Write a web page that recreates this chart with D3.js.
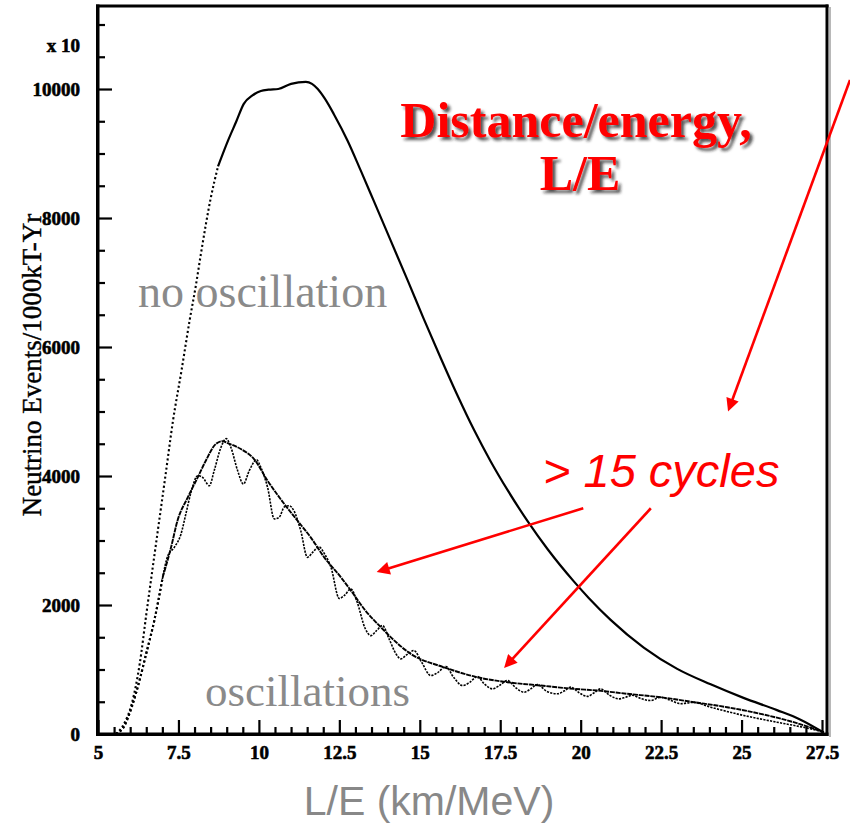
<!DOCTYPE html>
<html>
<head>
<meta charset="utf-8">
<script src="https://cdn.jsdelivr.net/npm/d3@7"></script>
<style>
  html, body { margin: 0; padding: 0; background: #ffffff; }
  svg { display: block; }
</style>
</head>
<body>
<svg id="chart" width="850" height="825"></svg>
<script>
// Expected neutrino event rate vs L/E, no oscillation
const noOscLE = [5.56, 5.8, 6.05, 6.3, 6.5, 6.75, 6.9, 7.1, 7.33, 7.6, 7.85, 8.04, 8.2, 8.5, 8.73,
  9.04, 9.3, 9.53, 9.8, 10.06, 10.3, 10.6, 11.0, 11.46, 11.65, 11.83, 12.05, 12.33, 12.76, 13.17,
  13.57, 14.1, 14.63, 15.12, 15.65, 16.18, 16.68, 17.2, 17.73, 18.35, 18.98, 19.78, 20.25, 20.93,
  21.96, 23.0, 24.04, 25.06, 26.1, 26.8, 27.55];
const noOscEvents = [0, 150, 470, 1100, 1850, 2760, 3300, 4020, 4855, 5650, 6420, 6950, 7450, 8300, 8800,
  9200, 9500, 9770, 9900, 9970, 9990, 10000, 10080, 10110, 10080, 10000, 9850, 9610, 9195, 8730,
  8265, 7645, 7025, 6440, 5830, 5240, 4720, 4230, 3780, 3300, 2860, 2370, 2110, 1770,
  1340, 1010, 770, 560, 370, 230, 23];

// With oscillations: averaged (slow) suppression
const avgLE = [5.56, 5.8, 6.05, 6.3, 6.5, 6.75, 7.01, 7.27, 7.47, 7.79, 8.1, 8.35, 8.66, 8.88, 9.03,
  9.44, 9.85, 10.27, 10.79, 11.2, 11.61, 12.03, 12.55, 12.86, 13.3, 13.79, 14.25, 14.72, 15.75,
  16.79, 17.72, 18.76, 19.79, 20.52, 21.45, 22.48, 23.52, 24.55, 25.59, 26.62, 27.56];
const avgEvents = [0, 110, 420, 850, 1250, 1760, 2430, 2894, 3307, 3669, 3979, 4237, 4496, 4540, 4510,
  4418, 4263, 3927, 3566, 3307, 3049, 2739, 2429, 2223, 1920, 1655, 1430, 1242, 1035,
  880, 803, 751, 700, 674, 623, 570, 493, 415, 313, 183, 28];

// With oscillations: full (fast) oscillation pattern
const oscLE = [5.56, 5.8, 6.05, 6.3, 6.5, 6.75, 7.0, 7.16, 7.37, 7.58, 7.73, 7.89, 8.1, 8.25, 8.46,
  8.61, 8.82, 8.98, 9.13, 9.34, 9.52, 9.7, 9.93, 10.06, 10.27, 10.48, 10.63, 10.79, 10.94, 11.1,
  11.3, 11.51, 11.67, 11.87, 12.03, 12.24, 12.5, 12.66, 12.86, 13.05, 13.3, 13.48, 13.65, 13.84,
  14.05, 14.25, 14.41, 14.6, 14.82, 15.05, 15.34, 15.55, 15.81, 16.05, 16.33, 16.55, 16.79, 17.0,
  17.26, 17.5, 17.72, 18.0, 18.24, 18.45, 18.65, 18.95, 19.28, 19.5, 19.69, 19.95, 20.21, 20.42,
  20.62, 20.9, 21.19, 21.4, 21.6, 21.9, 22.17, 22.48, 22.8, 23.1, 23.5, 24.04, 25.07, 26.1, 27.14, 27.56];
const oscEvents = [0, 110, 420, 850, 1250, 1760, 2400, 2750, 2894, 3101, 3411, 3746, 4005, 3979, 3850,
  4082, 4443, 4580, 4443, 4082, 3876, 4082, 4250, 4133, 3823, 3334, 3359, 3520, 3540, 3450,
  3153, 2739, 2816, 2900, 2800, 2584, 2100, 2150, 2249, 2050, 1640, 1526, 1600, 1681,
  1470, 1250, 1165, 1230, 1294, 1120, 906, 950, 1046, 880, 751, 800, 890, 780,
  700, 760, 829, 710, 648, 700, 767, 660, 623, 670, 726, 640, 583, 640,
  700, 600, 545, 570, 600, 545, 519, 570, 520, 470, 490, 415, 287, 183, 80, 28];

// Axis ticks
const xMajorTicks = [5, 7.5, 10, 12.5, 15, 17.5, 20, 22.5, 25, 27.5];
const xTickLabels = ["5", "7.5", "10", "12.5", "15", "17.5", "20", "22.5", "25", "27.5"];
const yMajorTicks = [0, 2000, 4000, 6000, 8000, 10000];
const yTickLabels = ["0", "2000", "4000", "6000", "8000", "10000"];
const xMinorTicks = d3.range(5, 27.51, 0.5).filter(v => !xMajorTicks.includes(v));
const yMinorTicks = d3.range(0, 11001, 500).filter(v => !yMajorTicks.includes(v));

const svg = d3.select("#chart");
const x = d3.scaleLinear().domain([5, 27.655]).range([98, 827]);
const y = d3.scaleLinear().domain([0, 11287]).range([734, 6]);
const [xLo, xHi] = x.domain();
const [yLo, yHi] = y.domain();

const defs = svg.append("defs");
const shadow = defs.append("filter").attr("id", "shadow")
  .attr("x", "-10%").attr("y", "-20%").attr("width", "130%").attr("height", "150%");
shadow.append("feDropShadow").attr("dx", 3).attr("dy", 3).attr("stdDeviation", 1.4)
  .attr("flood-color", "#1a1a1a").attr("flood-opacity", 0.75);

defs.append("marker").attr("id", "head")
  .attr("viewBox", "0 0 10 10").attr("refX", 10).attr("refY", 5)
  .attr("markerUnits", "userSpaceOnUse").attr("markerWidth", 17).attr("markerHeight", 13)
  .attr("orient", "auto")
  .append("path").attr("d", "M0,0 L10,5 L0,10 Z").attr("fill", "#ff0000");

// Axes with ticks pointing into the frame
const tickFont = "'Liberation Serif', 'Times New Roman', serif";

const gxMinor = svg.append("g").attr("transform", `translate(0,${y(0)})`)
  .call(d3.axisBottom(x).tickValues(xMinorTicks).tickSize(-7).tickFormat(""));
const gx = svg.append("g").attr("transform", `translate(0,${y(0)})`)
  .call(d3.axisBottom(x).tickValues(xMajorTicks).tickSize(-14).tickPadding(12)
    .tickFormat((d, i) => xTickLabels[i]));
const gyMinor = svg.append("g").attr("transform", `translate(${x(5)},0)`)
  .call(d3.axisLeft(y).tickValues(yMinorTicks).tickSize(-7).tickFormat(""));
const gy = svg.append("g").attr("transform", `translate(${x(5)},0)`)
  .call(d3.axisLeft(y).tickValues(yMajorTicks).tickSize(-14).tickPadding(18)
    .tickFormat((d, i) => yTickLabels[i]));

[gx, gxMinor, gy, gyMinor].forEach(g => {
  g.select(".domain").remove();
  g.selectAll(".tick line").attr("stroke", "#000").attr("stroke-width", 2.2);
  g.selectAll(".tick text").attr("fill", "#000").attr("stroke", "#000").attr("stroke-width", 0.6)
    .style("font-family", tickFont).style("font-weight", "bold").style("font-size", "19px");
});

// Frame drawn as filled bars
const frame = svg.append("g");
const bar = (x0, y0, w, h, c) => frame.append("rect")
  .attr("x", x0).attr("y", y0).attr("width", w).attr("height", h).attr("fill", c);
bar(x(xHi) + 2, y(yHi) + 1, 2, y(yLo) - y(yHi) + 2, "#b8b8b8");         // right-edge shade
bar(x(xLo) - 2, y(yHi) - 1.5, x(xHi) - x(xLo) + 3.5, 3, "#000");         // top
bar(x(xHi) - 1.5, y(yHi) - 1.5, 3, y(yLo) - y(yHi) + 3.5, "#000");      // right
bar(x(xLo) - 2, y(yHi) - 1.5, 3.5, y(yLo) - y(yHi) + 3.5, "#000");      // left axis
bar(x(xLo) - 2, y(yLo) - 1.5, x(xHi) - x(xLo) + 3.5, 3.5, "#000");       // bottom axis

// Scale factor note above the y axis
svg.append("text").attr("x", x(5) - 18).attr("y", 52).attr("text-anchor", "end")
  .attr("stroke", "#000").attr("stroke-width", 0.6)
  .style("font-family", tickFont).style("font-weight", "bold").style("font-size", "19px")
  .text("x 10");

// Y axis title
svg.append("text")
  .attr("transform", `translate(41,${365}) rotate(-90)`)
  .attr("text-anchor", "middle").attr("stroke", "#000").attr("stroke-width", 0.4)
  .style("font-family", tickFont).style("font-size", "27px").attr("fill", "#000")
  .text("Neutrino Events/1000kT-Yr");

// X axis title
svg.append("text").attr("x", 429).attr("y", 815).attr("text-anchor", "middle")
  .style("font-family", "'Liberation Sans', Arial, sans-serif").style("font-size", "41px")
  .attr("fill", "#888888").text("L/E (km/MeV)");

// Curve labels
svg.append("text").attr("x", 138).attr("y", 307)
  .style("font-family", tickFont).style("font-size", "46px").attr("fill", "#8a8a8a")
  .text("no oscillation");
svg.append("text").attr("x", 205).attr("y", 706)
  .style("font-family", tickFont).style("font-size", "45px").attr("fill", "#8a8a8a")
  .text("oscillations");

// Curves
const zip = (xs, ys) => xs.map((v, i) => [v, ys[i]]);
const line = d3.line().x(d => x(d[0])).y(d => y(d[1])).curve(d3.curveMonotoneX);
const curves = svg.append("g").attr("fill", "none").attr("stroke", "#000");

function drawSeries(pts, split, solidStyle) {
  curves.append("path").datum(pts.filter(d => d[0] <= split))
    .attr("d", line).attr("stroke-width", 2.1).attr("stroke-dasharray", "2.1 2.5");
  const rest = curves.append("path").datum(pts.filter(d => d[0] >= split))
    .attr("d", line).attr("stroke-width", solidStyle.width);
  if (solidStyle.dash) rest.attr("stroke-dasharray", solidStyle.dash);
}

drawSeries(zip(noOscLE, noOscEvents), 8.73, { width: 2.2 });
drawSeries(zip(avgLE, avgEvents), 7.01, { width: 1.9, dash: "5 0.8" });
drawSeries(zip(oscLE, oscEvents), 7.0, { width: 1.6, dash: "2.2 1.2" });

// Title annotation
const title = svg.append("g").attr("filter", "url(#shadow)")
  .style("font-family", tickFont).style("font-weight", "bold").style("font-size", "50px")
  .attr("fill", "#ff0000").attr("text-anchor", "middle");
title.append("text").attr("x", 576).attr("y", 137).text("Distance/energy,");
title.append("text").attr("x", 580).attr("y", 190).text("L/E");

svg.append("text").attr("x", 543).attr("y", 487)
  .style("font-family", "'Liberation Sans', Arial, sans-serif").style("font-style", "italic")
  .style("font-size", "47px").attr("fill", "#ff0000").text("> 15 cycles");

// Arrows, given in (L/E, events) coordinates
const arrows = [
  { from: [28.37, 10140], to: [24.58, 5000] },
  { from: [20.08, 3500], to: [13.66, 2510] },
  { from: [22.18, 3500], to: [17.62, 1023] }
];
const ag = svg.append("g");
arrows.forEach(a => {
  const x1 = x(a.from[0]), y1 = y(a.from[1]), x2 = x(a.to[0]), y2 = y(a.to[1]);
  const len = Math.hypot(x2 - x1, y2 - y1);
  const ex = x2 - (x2 - x1) / len * 8, ey = y2 - (y2 - y1) / len * 8;
  ag.append("line").attr("x1", x1).attr("y1", y1).attr("x2", ex).attr("y2", ey)
    .attr("stroke", "#ff0000").attr("stroke-width", 2.6);
  ag.append("line").attr("x1", ex).attr("y1", ey).attr("x2", x2).attr("y2", y2)
    .attr("stroke", "none").attr("marker-end", "url(#head)");
});
</script>
</body>
</html>
